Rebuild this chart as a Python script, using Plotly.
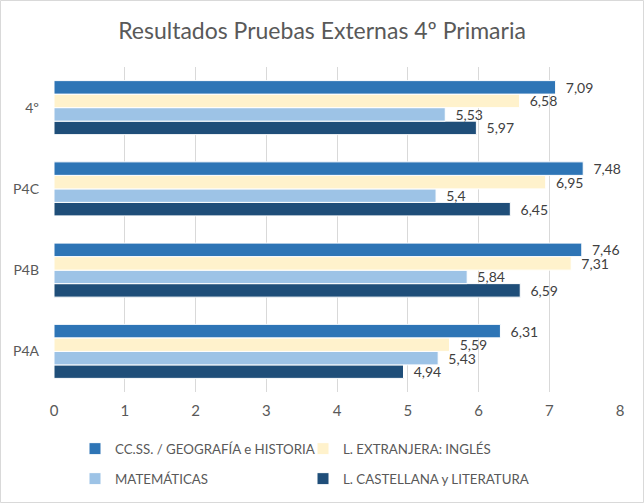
import plotly.graph_objects as go

categories = ["P4A", "P4B", "P4C", "4º"]
ccss = [6.31, 7.46, 7.48, 7.09]
ingles = [5.59, 7.31, 6.95, 6.58]
mates = [5.43, 5.84, 5.40, 5.53]
castellana = [4.94, 6.59, 6.45, 5.97]

series_names = ["CC.SS. / GEOGRAFÍA e HISTORIA", "L. EXTRANJERA: INGLÉS",
                "MATEMÁTICAS", "L. CASTELLANA y LITERATURA"]
series_values = [ccss, ingles, mates, castellana]
colors = ["#2E75B6", "#FFF2CC", "#9DC3E6", "#1F4E79"]

W, H = 644, 503
# legend placement (text start x, row centre y) in pixels for each series
legend_pos = [(114, 449), (342, 449), (114, 479), (342, 479)]
legend_ids = ["legend", "legend2", "legend3", "legend4"]

def fmt(v):
    s = f"{v:.2f}".rstrip("0").rstrip(".")
    return "  " + s.replace(".", ",")

fig = go.Figure()
# add in reverse so first series appears at the top of each group
for name, vals, col, lid in reversed(list(zip(series_names, series_values, colors, legend_ids))):
    fig.add_trace(go.Bar(
        y=categories, x=vals, name=name, orientation="h",
        marker=dict(color=col, line=dict(color="white", width=1)),
        text=[fmt(v) for v in vals], textposition="outside",
        textfont=dict(color="#404040", size=14),
        constraintext="none",
        cliponaxis=False, legend=lid,
    ))

ml, mr, mt, mb = 54, 24, 67, 111
pw, ph = W - ml - mr, H - mt - mb

legends = {}
for lid, (tx, ty) in zip(legend_ids, legend_pos):
    legends[lid] = dict(orientation="h", xref="container", yref="container",
                        x=(tx - 39) / W, xanchor="left",
                        y=1 - ty / H, yanchor="middle",
                        bgcolor="rgba(0,0,0,0)", borderwidth=0,
                        font=dict(size=13.3, color="#595959"), itemwidth=30)

fig.update_layout(
    width=W, height=H,
    margin=dict(l=ml, r=mr, t=mt, b=mb, autoexpand=False),
    paper_bgcolor="white", plot_bgcolor="white",
    font=dict(family="Lato, Carlito, Calibri, sans-serif", color="#595959", size=14),
    title=dict(text="Resultados Pruebas Externas 4º Primaria", x=0.5, xanchor="center",
               y=1 - 31 / H, yanchor="middle",
               font=dict(size=23, color="#595959")),
    barmode="group", bargap=0.335, bargroupgap=0,
    xaxis=dict(range=[0, 8], dtick=1, showgrid=True, gridcolor="#D9D9D9", gridwidth=1,
               zeroline=False, showline=False, ticks="", ticklabelstandoff=8,
               automargin=False, tickfont=dict(size=15, color="#595959")),
    yaxis=dict(showgrid=False, zeroline=False, showline=False, ticks="",
               ticklabelstandoff=14, automargin=False,
               tickfont=dict(size=14, color="#595959")),
    showlegend=True,
    shapes=[dict(type="rect", xref="paper", yref="paper",
                 x0=-(ml - 0.5) / pw, x1=1 + (mr - 0.5) / pw,
                 y0=-(mb - 0.5) / ph, y1=1 + (mt - 0.5) / ph,
                 line=dict(color="#D9D9D9", width=1), layer="below")],
    **legends,
)

fig.write_html("out.html", config={"displayModeBar": False},
               post_script="document.body.style.margin='0';document.body.style.overflow='hidden';")
